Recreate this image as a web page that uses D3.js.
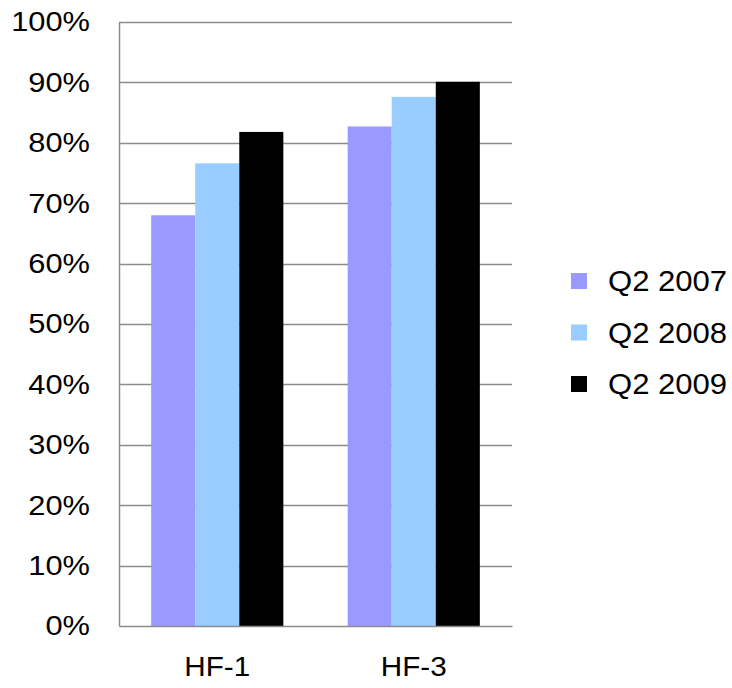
<!DOCTYPE html>
<html>
<head>
<meta charset="utf-8">
<script src="https://cdn.jsdelivr.net/npm/d3@7"></script>
<style>
  html, body { margin: 0; padding: 0; background: #fff; }
  svg { display: block; font-family: "Liberation Sans", Arial, sans-serif; }
</style>
</head>
<body>
<svg id="chart" width="732" height="688"></svg>
<script>
// Share of sites by quarter, grouped by HF site
const categories = ["HF-1", "HF-3"];
const seriesNames = ["Q2 2007", "Q2 2008", "Q2 2009"];
const seriesColors = ["#9999FF", "#99CCFF", "#000000"];
const q2007 = [0.680, 0.827];
const q2008 = [0.766, 0.876];
const q2009 = [0.818, 0.901];
const tickValues = [0, 0.1, 0.2, 0.3, 0.4, 0.5, 0.6, 0.7, 0.8, 0.9, 1.0];

const seriesValues = [q2007, q2008, q2009];

const svg = d3.select("#chart");
const margin = { top: 22, right: 220, bottom: 62, left: 119 };
const width = 732 - margin.left - margin.right;
const height = 688 - margin.top - margin.bottom;

const g = svg.append("g").attr("transform", `translate(${margin.left},${margin.top})`);

const x0 = d3.scaleBand().domain(categories).range([0, width]).paddingInner(0).paddingOuter(0);
const x1 = d3.scaleBand().domain(seriesNames).range([0, x0.bandwidth()]).paddingInner(0).paddingOuter(0.73);
const y = d3.scaleLinear().domain([0, 1]).range([height, 0]);

// widen glyphs slightly to the chart's wide lettering
function stretch(sel, factor) {
  sel.each(function () {
    const w = this.getComputedTextLength();
    d3.select(this).attr("textLength", w * factor).attr("lengthAdjust", "spacingAndGlyphs");
  });
}

// horizontal gridlines
g.append("g")
  .selectAll("line")
  .data(tickValues.filter(d => d > 0))
  .join("line")
  .attr("x1", 0).attr("x2", width)
  .attr("y1", d => Math.round(y(d)) + 0.5).attr("y2", d => Math.round(y(d)) + 0.5)
  .attr("stroke", "#8c8c8c").attr("stroke-width", 1.3);

// bars
const groups = g.append("g")
  .selectAll("g")
  .data(categories)
  .join("g")
  .attr("transform", d => `translate(${x0(d)},0)`);

groups.selectAll("rect")
  .data((c, ci) => seriesNames.map((s, si) => ({ s, si, v: seriesValues[si][ci] })))
  .join("rect")
  .attr("x", d => x1(d.s))
  .attr("width", x1.bandwidth())
  .attr("y", d => y(d.v))
  .attr("height", d => height - y(d.v))
  .attr("fill", d => seriesColors[d.si]);

// y axis
const yAxis = d3.axisLeft(y).tickValues(tickValues).tickFormat(d3.format(".0%")).tickSize(0).tickPadding(29);
const yg = g.append("g").call(yAxis);
yg.select(".domain").attr("stroke", "#8c8c8c").attr("stroke-width", 1.5);
yg.selectAll("text").attr("font-size", 28).attr("fill", "#000")
  .attr("font-family", "'Liberation Sans', Arial, sans-serif")
  .call(stretch, 1.1);

// x axis
const xAxis = d3.axisBottom(x0).tickSize(0).tickPadding(30);
const xg = g.append("g").attr("transform", `translate(0,${height})`).call(xAxis);
xg.select(".domain").attr("stroke", "#8c8c8c").attr("stroke-width", 1.5);
xg.selectAll("text").attr("font-size", 28).attr("fill", "#000")
  .attr("font-family", "'Liberation Sans', Arial, sans-serif")
  .call(stretch, 1.06);

// legend
const legend = svg.append("g").attr("transform", "translate(571,273)");
const items = legend.selectAll("g")
  .data(seriesNames)
  .join("g")
  .attr("transform", (d, i) => `translate(0,${i * 51.5})`);
items.append("rect")
  .attr("width", 16).attr("height", 16)
  .attr("fill", (d, i) => seriesColors[i]);
items.append("text")
  .attr("x", 37).attr("y", 8).attr("dy", "0.36em")
  .attr("font-size", 29)
  .attr("fill", "#000")
  .text(d => d)
  .call(stretch, 1.07);
</script>
</body>
</html>
